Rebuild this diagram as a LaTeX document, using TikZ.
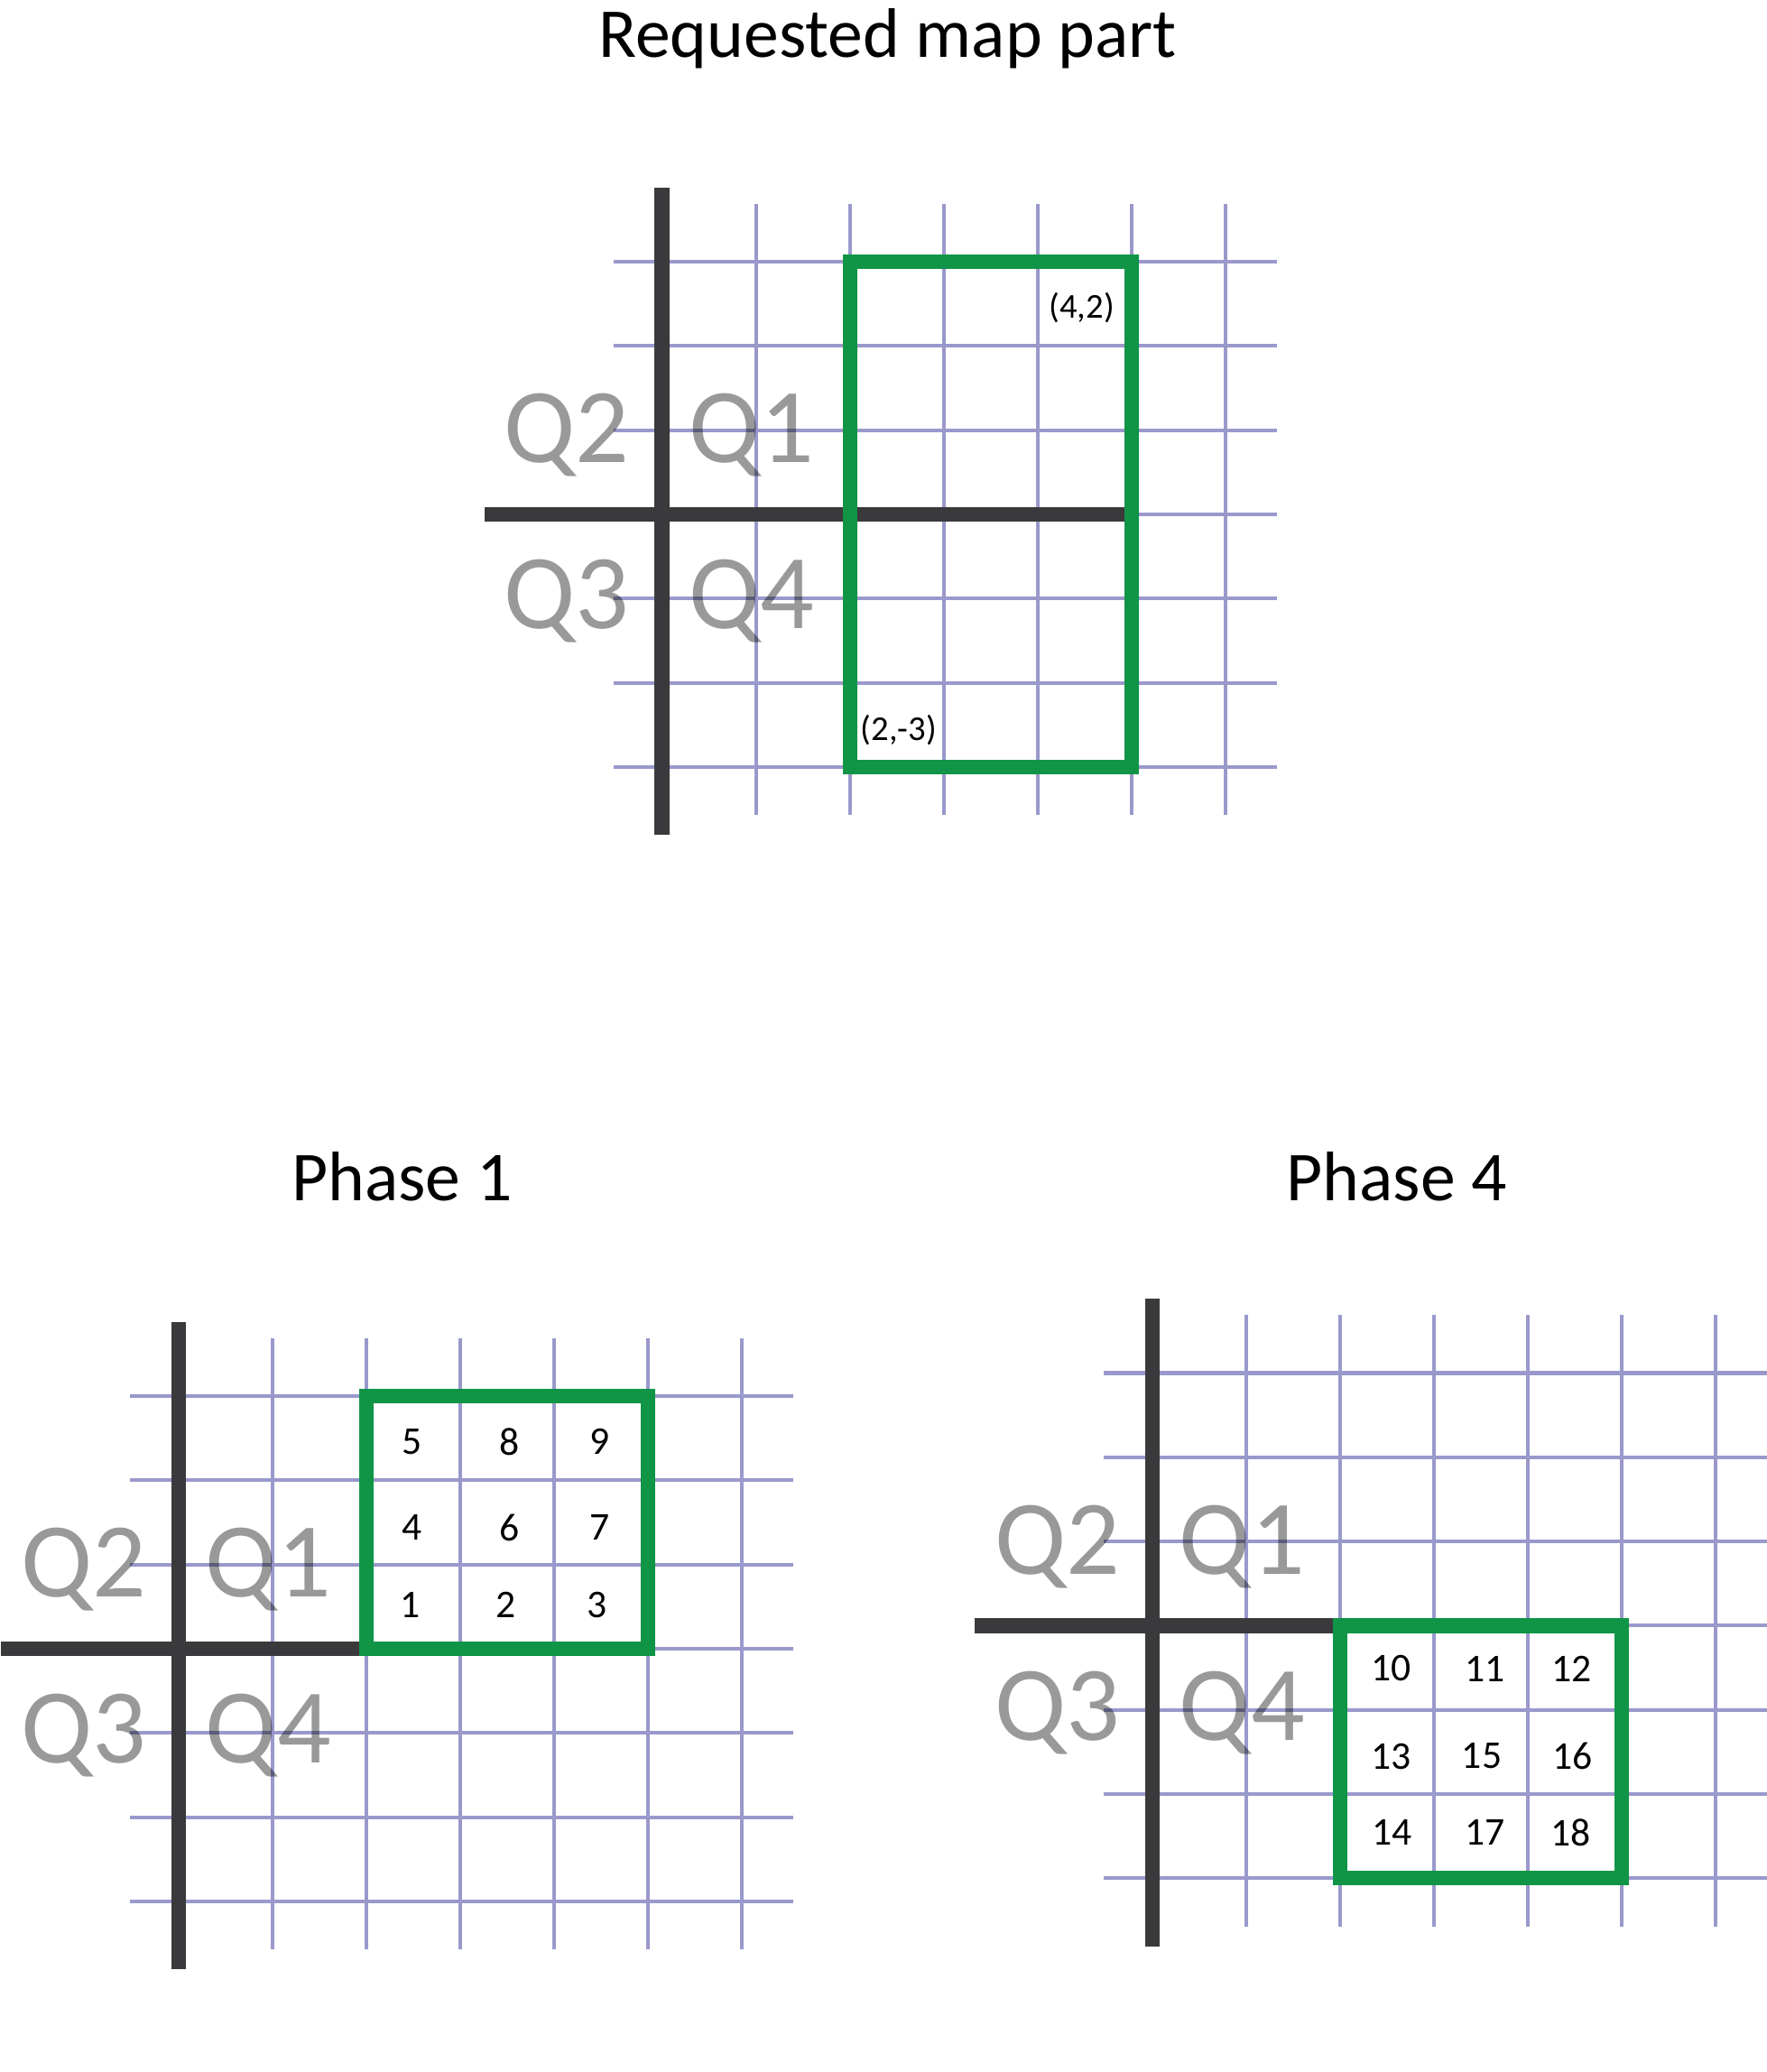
\documentclass[tikz,border=0pt]{standalone}
\usepackage{fontspec}
\setmainfont{Carlito}
\definecolor{gridblue}{RGB}{153,153,204}
\definecolor{axisgray}{RGB}{58,58,60}
\definecolor{boxgreen}{RGB}{16,148,70}
\tikzset{
  gridline/.style={gridblue,line width=1.15pt},
  axisline/.style={axisgray,line width=4.7pt},
  areabox/.style={boxgreen,line width=4.6pt,line join=miter},
  quad/.style={text=black,text opacity=0.4,inner sep=0pt,font=\fontsize{33.5}{34}\selectfont},
  cellnum/.style={inner sep=0pt,font=\fontsize{12.4}{13}\selectfont},
  corner/.style={inner sep=0pt,font=\fontsize{11}{12}\selectfont},
  heading/.style={anchor=base,inner sep=0pt,font=\fontsize{22.1}{24}\selectfont},
}
% grid, axes and quadrant names of one map; #1 prefix, #2 end of the x axis
\newcommand{\quadmap}[2]{%
  \foreach \i in {1,...,6} \draw[gridline] (\i,-3.57) -- (\i,3.69);
  \foreach \j in {-3,...,3} \draw[gridline] (-0.52,\j) -- (6.55,\j);
  \draw[axisline] (0,-3.81) -- (0,3.88);
  \draw[axisline] (-1.89,0) -- (#2,0);
  \node[quad,anchor=base west] (#1q1) at (0.28,0.614) {Q1};
  \node[quad,anchor=base east] (#1q2) at (-0.34,0.614) {Q2};
  \node[quad,anchor=base east] (#1q3) at (-0.34,-1.358) {Q3};
  \node[quad,anchor=base west] (#1q4) at (0.28,-1.358) {Q4};
}
\begin{document}
\begin{tikzpicture}
\useasboundingbox (0,0) rectangle (19.57,-22.96);

\node[heading] (reqtitle) at (9.835,-0.633) {Requested map part};
\node[heading] (ph1title) at (4.455,-13.307) {Phase 1};
\node[heading] (ph4title) at (15.476,-13.307) {Phase 4};

% requested part
\begin{scope}[shift={(7.337cm,-5.70cm)},x=1.04cm,y=0.933cm]
  \quadmap{req}{5}
  \draw[areabox] (2,-3) rectangle (5,3);
  \node[corner] (upper) at (4.47,2.45) {(4,2)};
  \node[corner] (lower) at (2.52,-2.56) {(2,-3)};
\end{scope}

% phase 1
\begin{scope}[shift={(1.98cm,-18.27cm)},x=1.04cm,y=0.933cm]
  \quadmap{pa}{2}
  \draw[areabox] (2,0) rectangle (5,3);
  \foreach \n/\x/\y in {1/2.47/0.52, 2/3.49/0.52, 3/4.46/0.52,
                        4/2.49/1.44, 6/3.52/1.44, 7/4.49/1.44,
                        5/2.49/2.46, 8/3.52/2.46, 9/4.49/2.46}
    \node[cellnum] (n\n) at (\x,\y) {\n};
\end{scope}

% phase 4
\begin{scope}[shift={(12.77cm,-18.014cm)},x=1.04cm,y=0.933cm]
  \quadmap{pb}{2}
  \draw[areabox] (2,-3) rectangle (5,0);
  \foreach \n/\x/\y in {10/2.54/-0.51, 11/3.54/-0.51, 12/4.47/-0.51,
                        13/2.54/-1.55, 15/3.51/-1.55, 16/4.48/-1.55,
                        14/2.55/-2.46, 17/3.54/-2.46, 18/4.46/-2.46}
    \node[cellnum] (n\n) at (\x,\y) {\n};
\end{scope}
\end{tikzpicture}
\end{document}
